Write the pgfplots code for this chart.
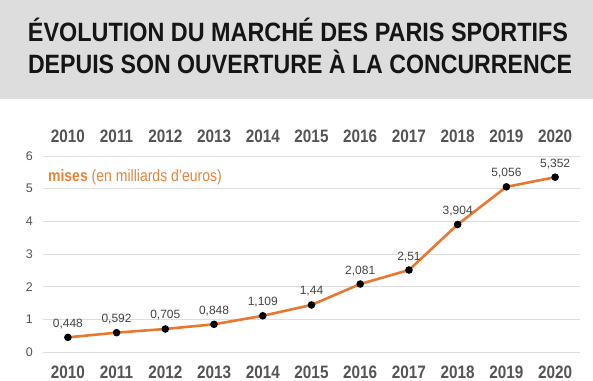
\documentclass[border=0pt]{standalone}
\usepackage{pgfplots}
\pgfplotsset{compat=1.18}
\usepackage{pgfplotstable}
\usepackage{fontspec}
\usepackage{graphicx}
\setmainfont{Liberation Sans}
\newfontfamily\cond[FakeStretch=0.85]{Liberation Sans}
\definecolor{band}{HTML}{DDDDDD}
\definecolor{titlec}{HTML}{151515}
\definecolor{tickc}{HTML}{555555}
\definecolor{labc}{HTML}{444444}
\definecolor{gridc}{HTML}{DEDEDE}
\definecolor{linec}{HTML}{E8782F}
\definecolor{misesc}{HTML}{E5843C}
\pgfplotstableread{
x y lab
0 0.448 0,448
1 0.592 0,592
2 0.705 0,705
3 0.848 0,848
4 1.109 1,109
5 1.44 1,44
6 2.081 2,081
7 2.51 2,51
8 3.904 3,904
9 5.056 5,056
10 5.352 5,352
}\mises
\begin{document}
\begin{tikzpicture}
\useasboundingbox (0,0) rectangle (593bp,381bp);
\fill[white] (0,0) rectangle (593bp,381bp);
\fill[band] (0,282bp) rectangle (593bp,381bp);
\node[anchor=base,inner sep=0,text=titlec] at (298bp,339bp)
  {\resizebox{540bp}{\height}{\fontsize{26.5bp}{30bp}\selectfont\bfseries ÉVOLUTION DU MARCHÉ DES PARIS SPORTIFS}};
\node[anchor=base,inner sep=0,text=titlec] at (300bp,307bp)
  {\resizebox{544bp}{\height}{\fontsize{26.5bp}{30bp}\selectfont\bfseries DEPUIS SON OUVERTURE À LA CONCURRENCE}};
\begin{axis}[
  at={(43bp,29bp)}, anchor=south west,
  scale only axis, width=537bp, height=196bp,
  xmin=-0.51, xmax=10.51, ymin=0, ymax=6,
  axis line style={draw=none},
  major tick length=0pt,
  xtick={0,...,10},
  xticklabels={2010,2011,2012,2013,2014,2015,2016,2017,2018,2019,2020},
  ytick={0,1,2,3,4,5,6},
  ymajorgrids, grid style={gridc, line width=0.9bp},
  xticklabel style={font=\cond\bfseries\fontsize{18bp}{20bp}\selectfont, text=tickc, inner sep=0pt, anchor=north, yshift=-13.5bp},
  yticklabel style={font=\fontsize{12.5bp}{14bp}\selectfont, text=tickc, inner sep=0pt, anchor=east, xshift=-10bp},
  /pgf/number format/assume math mode=true,
  clip=false,
]
\addplot[linec, line width=2.6bp, mark=*, mark size=2.4bp,
  mark options={fill=black, draw=black},
  nodes near coords, point meta=explicit symbolic,
  every node near coord/.style={font=\fontsize{12bp}{14bp}\selectfont, text=labc, anchor=base, inner sep=0pt, yshift=10bp}]
  table[x=x, y=y, meta=lab] {\mises};
\node[anchor=base west, inner sep=0, text=misesc, font=\cond\fontsize{16.5bp}{18bp}\selectfont] at (axis cs:-0.41,5.22) {\textbf{mises} (en milliards d’euros)};
\end{axis}
\begin{axis}[
  at={(43bp,29bp)}, anchor=south west,
  scale only axis, width=537bp, height=196bp,
  xmin=-0.51, xmax=10.51, ymin=0, ymax=6,
  axis line style={draw=none},
  major tick length=0pt,
  xtick={0,...,10},
  xticklabels={2010,2011,2012,2013,2014,2015,2016,2017,2018,2019,2020},
  ytick=\empty,
  xticklabel pos=upper,
  xticklabel style={font=\cond\bfseries\fontsize{18bp}{20bp}\selectfont, text=tickc, inner sep=0pt, anchor=south, yshift=13.5bp},
]
\addplot[draw=none] coordinates {(0,0)};
\end{axis}
\end{tikzpicture}
\end{document}
